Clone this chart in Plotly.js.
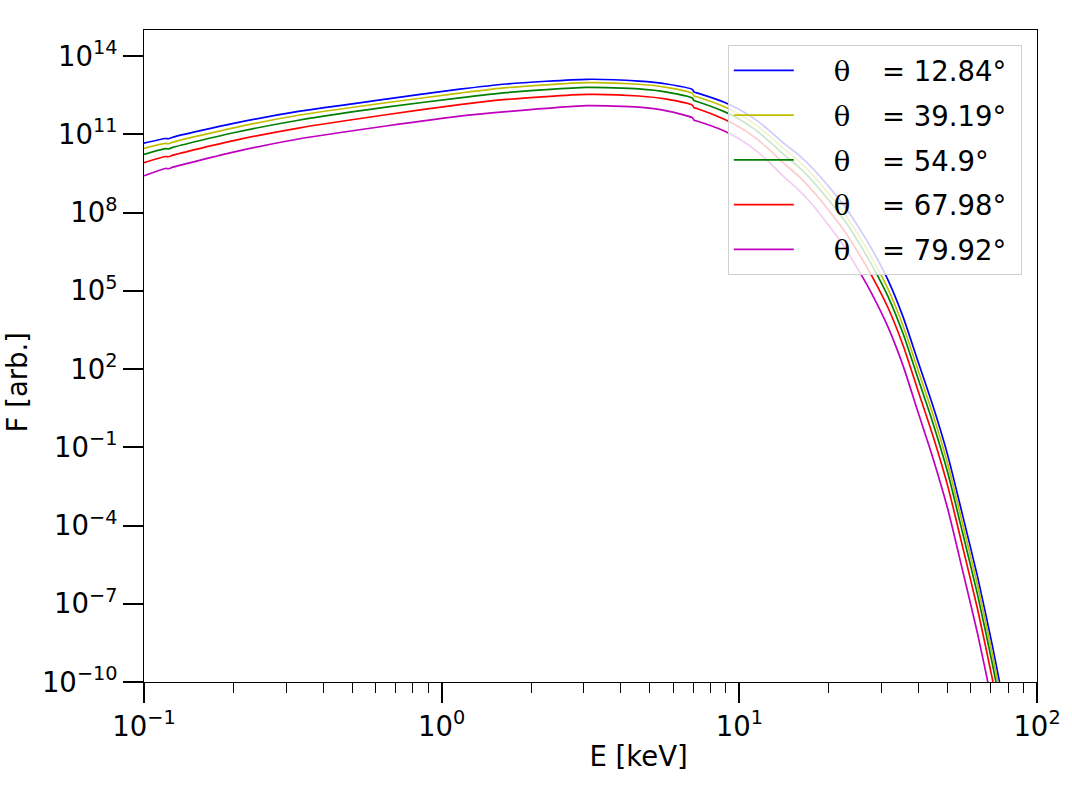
<!DOCTYPE html>
<html>
<head>
<meta charset="utf-8">
<script src="https://cdn.plot.ly/plotly-3.0.1.min.js"></script>
<style>
  html, body { margin: 0; padding: 0; background: #fff; }
  #chart { width: 1072px; height: 790px; }
</style>
</head>
<body>
<div id="chart"></div>
<script>
"use strict";

// photon energy in keV (shared by all five curves)
const energyKeV = [0.1, 0.118, 0.121, 0.125, 0.2, 0.334, 0.65, 1.15, 1.65, 3.07, 4.6, 5.7, 6.95, 7.05, 7.2, 8.9,
    10, 11.22, 12.59, 14.13, 15.85, 17.78, 19.95, 22.39, 25.12, 28.18, 31.62, 35.48, 39.81, 44.67, 50.12,
    56.23, 63.1, 70.79, 79.43];

// log10 of the flux, one array per viewing angle
const logF1284 = [10.66, 10.84, 10.83, 10.89, 11.42, 11.89, 12.35, 12.73, 12.93, 13.11, 13.04, 12.93, 12.72, 12.62, 12.59, 12.23,
    11.95, 11.60, 11.15, 10.65, 10.20, 9.65, 9.00, 8.30, 7.45, 6.50, 5.40, 4.00, 2.30, 0.60, -1.30, -3.60, -5.95, -8.60, -11.50];
const logF3919 = [10.46, 10.65, 10.64, 10.70, 11.25, 11.74, 12.21, 12.58, 12.79, 12.98, 12.92, 12.80, 12.57, 12.47, 12.44, 12.06,
    11.77, 11.41, 10.95, 10.44, 9.97, 9.40, 8.73, 8.01, 7.14, 6.17, 5.06, 3.66, 1.97, 0.27, -1.63, -3.93, -6.27, -8.92, -11.82];
const logF549 = [10.23, 10.45, 10.44, 10.50, 11.06, 11.55, 12.04, 12.40, 12.60, 12.80, 12.74, 12.62, 12.39, 12.29, 12.26, 11.87,
    11.58, 11.21, 10.74, 10.22, 9.74, 9.16, 8.48, 7.75, 6.87, 5.89, 4.77, 3.36, 1.65, -0.06, -1.97, -4.28, -6.64, -9.30, -12.21];
const logF6798 = [9.91, 10.15, 10.14, 10.20, 10.76, 11.25, 11.75, 12.14, 12.34, 12.53, 12.47, 12.35, 12.12, 12.02, 11.99, 11.58,
    11.28, 10.90, 10.42, 9.88, 9.39, 8.79, 8.09, 7.34, 6.45, 5.47, 4.34, 2.91, 1.18, -0.55, -2.48, -4.81, -7.19, -9.88, -12.81];
const logF7992 = [9.41, 9.69, 9.68, 9.74, 10.32, 10.83, 11.32, 11.70, 11.87, 12.10, 12.04, 11.90, 11.64, 11.54, 11.51, 11.13,
    10.82, 10.43, 9.93, 9.37, 8.86, 8.24, 7.51, 6.73, 5.80, 4.78, 3.60, 2.13, 0.36, -1.40, -3.36, -5.72, -8.13, -10.84, -13.80];

const angleLabels = ["12.84", "39.19", "54.9", "67.98", "79.92"];
const seriesColors = ["#0000ff", "#bfbf00", "#008000", "#ff0000", "#bf00bf"];

const xTickVals = [0.1, 1, 10, 100];
const xTickText = ["10<sup>\u22121</sup>", "10<sup>0</sup>", "10<sup>1</sup>", "10<sup>2</sup>"];
const yTickVals = [1e-10, 1e-7, 1e-4, 1e-1, 1e2, 1e5, 1e8, 1e11, 1e14];
const yTickText = ["10<sup>\u221210</sup>", "10<sup>\u22127</sup>", "10<sup>\u22124</sup>", "10<sup>\u22121</sup>",
    "10<sup>2</sup>", "10<sup>5</sup>", "10<sup>8</sup>", "10<sup>11</sup>", "10<sup>14</sup>"];

const NB = "\u00a0";
const ZW = "\u200b"; // keeps the padding from being trimmed
const FS = 27.5;
const allLogF = [logF1284, logF3919, logF549, logF6798, logF7992];

const traces = allLogF.map(function (lf, i) {
    return {
        type: "scatter",
        mode: "lines",
        x: energyKeV,
        y: lf.map(function (v) { return Math.pow(10, v); }),
        name: NB.repeat(4) + '<span style="font-family:\'DejaVu Serif\'">\u03b8</span>' + NB.repeat(3) + "\u2009" +
            "= " + angleLabels[i] + "\u00b0" + NB,
        legendgroup: "g" + i,
        line: { color: seriesColors[i], width: 1.7, shape: "spline", smoothing: 0.6 },
        hoverinfo: "x+y+name"
    };
});

// minor ticks 2..9 in each decade
const minorX = [];
[0.1, 1, 10].forEach(function (d) {
    for (let k = 2; k <= 9; k++) minorX.push(k * d);
});

const layout = {
    width: 1072,
    height: 790,
    margin: { l: 144, r: 35, t: 30, b: 108 },
    paper_bgcolor: "white",
    plot_bgcolor: "white",
    font: { family: "DejaVu Sans", size: FS, color: "black" },
    showlegend: true,
    legend: {
        x: 0.983, xanchor: "right",
        y: 0.977, yanchor: "top",
        bgcolor: "rgba(255,255,255,0.8)",
        bordercolor: "#d0d0d0",
        borderwidth: 1,
        font: { family: "DejaVu Sans", size: FS, color: "black" },
        tracegroupgap: 6,
        itemwidth: 60
    },
    xaxis: {
        type: "log",
        range: [-1, 2],
        tickmode: "array",
        tickvals: xTickVals,
        ticktext: xTickText,
        ticks: "outside",
        ticklen: 20,
        tickwidth: 2,
        tickcolor: "black",
        tickfont: { size: FS },
        minor: { tickmode: "array", tickvals: minorX, ticks: "outside", ticklen: 10, tickwidth: 1, tickcolor: "black", showgrid: false },
        showline: true,
        mirror: true,
        linecolor: "black",
        linewidth: 1,
        showgrid: false,
        zeroline: false,
        title: { text: ZW + NB.repeat(11) + "E [keV]", font: { size: FS }, standoff: 5 }
    },
    yaxis: {
        type: "log",
        range: [-10, 15],
        tickmode: "array",
        tickvals: yTickVals,
        ticktext: yTickText,
        ticks: "outside",
        ticklen: 20,
        tickwidth: 2,
        tickcolor: "black",
        tickfont: { size: FS },
        showline: true,
        mirror: true,
        linecolor: "black",
        linewidth: 1,
        showgrid: false,
        zeroline: false,
        title: { text: "F [arb.]" + NB.repeat(6) + ZW, font: { size: FS }, standoff: 6 }
    }
};

Plotly.newPlot("chart", traces, layout, { displayModeBar: false });
</script>
</body>
</html>
